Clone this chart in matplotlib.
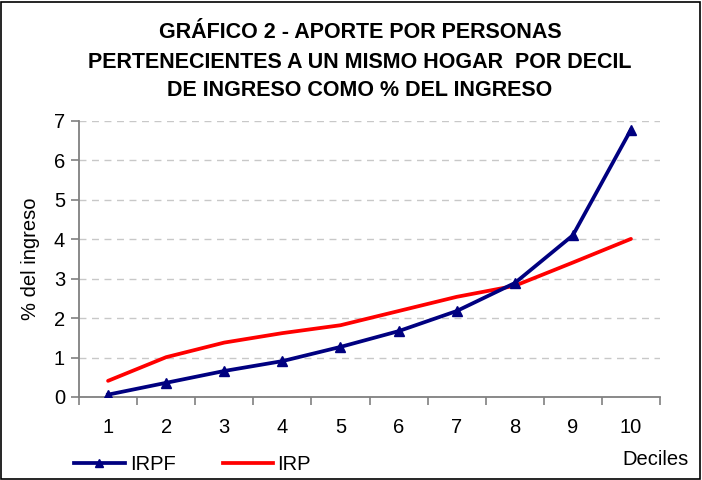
import matplotlib
matplotlib.use("Agg")
import matplotlib.pyplot as plt
from matplotlib.patches import Rectangle
from matplotlib.lines import Line2D

plt.rcParams['font.family'] = ['Liberation Sans', 'DejaVu Sans']

deciles = [1, 2, 3, 4, 5, 6, 7, 8, 9, 10]
irpf = [0.06, 0.36, 0.66, 0.91, 1.27, 1.67, 2.18, 2.89, 4.10, 6.78]
irp = [0.41, 1.01, 1.38, 1.62, 1.82, 2.18, 2.54, 2.82, 3.41, 4.01]
title_lines = ["GRÁFICO 2 - APORTE POR PERSONAS",
               "PERTENECIENTES A UN MISMO HOGAR  POR DECIL",
               "DE INGRESO COMO % DEL INGRESO"]

W, H = 702, 480
fig = plt.figure(figsize=(W/100, H/100), dpi=100)
ax = fig.add_axes([79/W, 1-397/H, (660-79)/W, (397-121)/H])

navy = '#000080'
red = '#FF0000'
lw = 2.7
ax.plot(deciles, irp, color=red, lw=lw, solid_capstyle='round', zorder=3)
ax.plot(deciles, irpf, color=navy, lw=lw, marker='^', markersize=7, zorder=4)

ax.set_xlim(0.5, 10.5)
ax.set_ylim(0, 7)
ax.set_yticks(range(0, 8))
ax.set_xticks(deciles)
ax.set_xticks([x + 0.5 for x in range(0, 11)], minor=True)
ax.tick_params(axis='x', which='major', length=0, pad=15, labelsize=14.5)
ax.tick_params(axis='x', which='minor', length=6, direction='out', color='#808080', width=1.2)
ax.tick_params(axis='y', which='major', length=6, direction='out', color='#808080', width=1.2,
               labelsize=14.5, pad=4)
ax.grid(axis='y', color='#c8c8c8', linestyle=(0, (5, 4)), lw=1)
ax.set_axisbelow(True)
for s in ['top', 'right']:
    ax.spines[s].set_visible(False)
for s in ['left', 'bottom']:
    ax.spines[s].set_color('#808080')
    ax.spines[s].set_linewidth(1.3)

ax.set_ylabel('% del ingreso', fontsize=14.5)
ax.yaxis.set_label_coords((30 - 79) / (660 - 79), 0.5)
ax.yaxis.label.set_va('center')

for i, (line, base) in enumerate(zip(title_lines, [38.5, 67.5, 96.5])):
    fig.text(360/W, 1-base/H, line, ha='center', va='baseline',
             fontsize=15.5, fontweight='bold')

fig.text(655/W, 1-465/H, 'Deciles', ha='center', va='baseline', fontsize=14.5)

# legend drawn manually
ly = 1 - 462.5/H
fig.add_artist(Line2D([74/W, 125/W], [ly, ly], color=navy, lw=lw, transform=fig.transFigure))
fig.add_artist(Line2D([99.5/W], [ly], color=navy, marker='^', markersize=6, transform=fig.transFigure))
fig.text(130/W, 1-469.5/H, 'IRPF', ha='left', va='baseline', fontsize=14.5)
fig.add_artist(Line2D([223/W, 273/W], [ly, ly], color=red, lw=lw, transform=fig.transFigure))
fig.text(277/W, 1-469.5/H, 'IRP', ha='left', va='baseline', fontsize=14.5)

fig.patches.append(Rectangle((1/W, 1/H), (W-3)/W, (H-3)/H, transform=fig.transFigure,
                             fill=False, edgecolor='black', lw=1.2))

fig.savefig('out.png', dpi=100)
